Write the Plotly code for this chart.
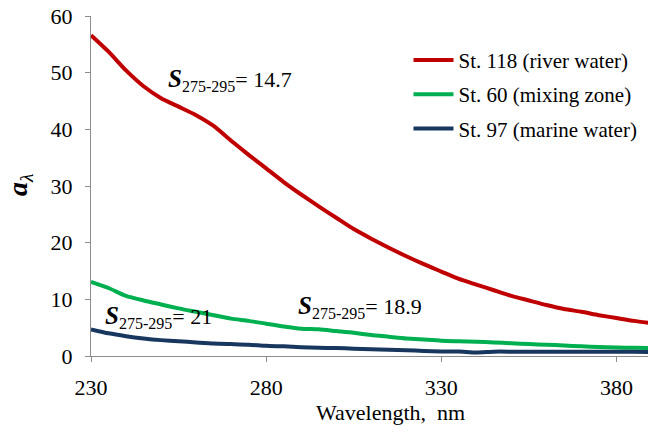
import plotly.graph_objects as go

wavelength = [230, 235, 240, 245, 250, 255, 260, 265, 270, 275, 280, 285, 290, 295,
              300, 305, 310, 315, 320, 325, 330, 335, 340, 345, 350, 355, 360, 365,
              370, 375, 380, 385, 390]

st118_river = [56.6, 53.7, 50.4, 47.6, 45.5, 44.0, 42.5, 40.6, 38.0, 35.5, 33.1, 30.7,
               28.5, 26.4, 24.4, 22.4, 20.7, 19.1, 17.6, 16.2, 14.9, 13.6, 12.6, 11.6,
               10.6, 9.8, 9.0, 8.3, 7.8, 7.2, 6.7, 6.2, 5.8]

st60_mixing = [13.1, 12.0, 10.6, 9.8, 9.1, 8.4, 7.8, 7.2, 6.6, 6.2, 5.7, 5.2, 4.8, 4.7,
               4.4, 4.1, 3.7, 3.4, 3.1, 2.9, 2.7, 2.6, 2.5, 2.4, 2.25, 2.1, 2.0, 1.85,
               1.7, 1.6, 1.5, 1.45, 1.4]

st97_marine = [4.7, 4.0, 3.5, 3.1, 2.8, 2.6, 2.4, 2.2, 2.1, 2.0, 1.8, 1.7, 1.55, 1.45,
               1.4, 1.3, 1.2, 1.1, 1.0, 0.9, 0.8, 0.78, 0.62, 0.77, 0.77, 0.76, 0.76,
               0.75, 0.75, 0.74, 0.74, 0.73, 0.72]

series_names = ["St. 118 (river water)", "St. 60 (mixing zone)", "St. 97 (marine water)"]
series_colors = ["#C00000", "#00B050", "#17375E"]

x_ticks = [230, 280, 330, 380]
y_ticks = [0, 10, 20, 30, 40, 50, 60]

slope_labels = ["14.7", "18.9", "21"]

FONT = '"Liberation Serif", "DejaVu Serif", "Times New Roman", serif'

fig = go.Figure()
for name, vals, col in zip(series_names, [st118_river, st60_mixing, st97_marine], series_colors):
    fig.add_trace(go.Scatter(x=wavelength, y=vals, mode="lines", name=name,
                             legendgroup=name,
                             line=dict(color=col, width=4, shape="spline", smoothing=0.6)))

axis_common = dict(showgrid=False, zeroline=False, showline=True, linecolor="#8C8C8C",
                   linewidth=1, ticks="outside", ticklen=5, tickcolor="#8C8C8C",
                   tickfont=dict(family=FONT, size=22, color="black"))

fig.update_xaxes(range=[230, 389], tickvals=x_ticks, ticklabelstandoff=7, **axis_common)
fig.update_yaxes(range=[0, 60], tickvals=y_ticks, ticklabelstandoff=8, **axis_common)

def slope_text(v):
    return ('<b><i><span style="font-size:25px">S</span></i></b>'
            '<sub><span style="font-size:16px">275-295</span></sub>= ' + v)

ann_pos = [(251.4, 48.7), (288.5, 8.6), (233.4, 6.8)]
for (ax_, ay_), v in zip(ann_pos, slope_labels):
    fig.add_annotation(x=ax_, y=ay_, xref="x", yref="y", text=slope_text(v),
                       showarrow=False, xanchor="left", yanchor="middle",
                       font=dict(family=FONT, size=22, color="black"))

fig.add_annotation(x=0.537, y=-0.165, xref="paper", yref="paper",
                   text="Wavelength,&nbsp;&nbsp;nm", showarrow=False,
                   xanchor="center", yanchor="middle",
                   font=dict(family=FONT, size=22, color="black"))

fig.add_annotation(x=-0.128, y=0.505, xref="paper", yref="paper",
                   text="<b><i>a</i></b><sub><i>λ</i></sub>", showarrow=False,
                   textangle=-90, xanchor="center", yanchor="middle",
                   font=dict(family=FONT, size=28, color="black"))

fig.update_layout(
    width=648, height=437,
    margin=dict(l=91, r=0, t=16, b=81, autoexpand=False),
    paper_bgcolor="white", plot_bgcolor="white",
    font=dict(family=FONT),
    showlegend=True,
    legend=dict(x=0.57, y=0.93, xanchor="left", yanchor="top",
                font=dict(family=FONT, size=21, color="black"),
                itemwidth=40,
                tracegroupgap=4, bgcolor="rgba(0,0,0,0)"),
)

fig.write_html("out.html", config={"displayModeBar": False},
               post_script="document.body.style.margin='0';")
